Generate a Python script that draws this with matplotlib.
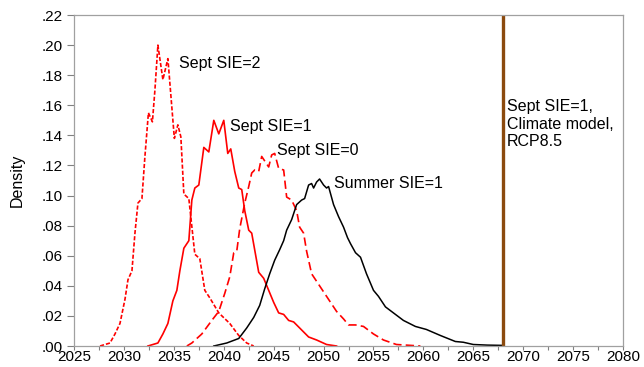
import matplotlib
matplotlib.use("Agg")
import matplotlib.pyplot as plt
from matplotlib.ticker import MultipleLocator, FuncFormatter

plt.rcParams['font.family'] = ['Liberation Sans', 'DejaVu Sans']

# kernel density estimates of the first ice-free year
sie2_year = [2027.6, 2028.6, 2029.1, 2029.6, 2030.1, 2030.4, 2030.8, 2031.1, 2031.4, 2031.8,
             2032.1, 2032.45, 2032.85, 2033.1, 2033.4, 2033.9, 2034.4, 2035.05, 2035.4, 2035.7,
             2036.0, 2036.5, 2037.1, 2037.6, 2038.1, 2038.6, 2039.5, 2040.6, 2041.5, 2042.3, 2043.0]
sie2_dens = [0.0, 0.002, 0.008, 0.015, 0.031, 0.044, 0.050, 0.075, 0.095, 0.098,
             0.126, 0.155, 0.149, 0.170, 0.200, 0.177, 0.191, 0.138, 0.147, 0.139,
             0.101, 0.098, 0.061, 0.058, 0.037, 0.032, 0.022, 0.015, 0.007, 0.002, 0.0]

sie1_year = [2032.4, 2033.4, 2033.9, 2034.4, 2034.9, 2035.3, 2035.6, 2036.0, 2036.5, 2036.8,
             2037.1, 2037.5, 2038.0, 2038.5, 2039.0, 2039.5, 2040.0, 2040.4, 2040.7, 2041.1,
             2041.5, 2041.8, 2042.1, 2042.5, 2042.8, 2043.5, 2044.0, 2045.0, 2045.5, 2046.0,
             2046.5, 2047.0, 2047.6, 2048.5, 2049.3, 2050.3, 2051.3]
sie1_dens = [0.0, 0.002, 0.008, 0.015, 0.030, 0.037, 0.050, 0.065, 0.070, 0.097,
             0.105, 0.107, 0.132, 0.129, 0.150, 0.141, 0.150, 0.128, 0.131, 0.116,
             0.105, 0.104, 0.090, 0.077, 0.075, 0.049, 0.045, 0.029, 0.022, 0.021,
             0.017, 0.016, 0.012, 0.006, 0.004, 0.001, 0.0]

sie0_year = [2036.3, 2036.8, 2037.8, 2038.8, 2039.5, 2040.1, 2040.6, 2041.0, 2041.3, 2041.6,
             2042.1, 2042.5, 2042.8, 2043.1, 2043.5, 2043.8, 2044.1, 2044.5, 2044.8, 2045.1,
             2045.5, 2046.0, 2046.3, 2046.8, 2047.3, 2047.6, 2048.0, 2048.3, 2048.8, 2049.5,
             2050.2, 2050.7, 2051.3, 2052.0, 2052.5, 2053.2, 2054.0, 2055.0, 2056.0, 2057.3, 2059.7]
sie0_dens = [0.0, 0.002, 0.008, 0.017, 0.023, 0.035, 0.046, 0.062, 0.063, 0.078,
             0.095, 0.106, 0.115, 0.117, 0.116, 0.126, 0.123, 0.119, 0.127, 0.128,
             0.118, 0.117, 0.099, 0.097, 0.090, 0.079, 0.075, 0.063, 0.048, 0.041,
             0.034, 0.029, 0.023, 0.018, 0.014, 0.014, 0.013, 0.008, 0.004, 0.001, 0.0]

summer_year = [2039.0, 2040.3, 2041.5, 2042.3, 2043.0, 2043.6, 2044.1, 2044.6, 2045.1, 2045.6,
               2046.0, 2046.3, 2046.8, 2047.3, 2047.8, 2048.1, 2048.5, 2048.8, 2049.0, 2049.3,
               2049.6, 2050.0, 2050.3, 2050.5, 2051.0, 2051.5, 2052.0, 2052.4, 2052.7, 2053.2,
               2053.7, 2054.3, 2055.0, 2055.5, 2056.2, 2057.0, 2058.0, 2059.2, 2060.3, 2061.7,
               2063.2, 2064.0, 2065.0, 2066.4, 2068.0]
summer_dens = [0.0, 0.002, 0.005, 0.012, 0.019, 0.027, 0.038, 0.048, 0.057, 0.064,
               0.070, 0.077, 0.084, 0.094, 0.097, 0.098, 0.107, 0.108, 0.105, 0.109,
               0.111, 0.107, 0.105, 0.106, 0.094, 0.086, 0.079, 0.072, 0.068, 0.062,
               0.059, 0.048, 0.037, 0.033, 0.026, 0.022, 0.017, 0.013, 0.011, 0.007,
               0.003, 0.0025, 0.001, 0.0006, 0.0004]

climate_model_year = 2068

fig = plt.figure(figsize=(6.44, 3.67), dpi=100)
ax = fig.add_axes([0.115, 0.0572, 0.8524, 0.9019])

ax.plot(sie2_year, sie2_dens, color='red', lw=1.2, dashes=(2.5, 1.2))
ax.plot(sie1_year, sie1_dens, color='red', lw=1.2)
ax.plot(sie0_year, sie0_dens, color='red', lw=1.2, dashes=(5, 2.5))
ax.plot(summer_year, summer_dens, color='black', lw=1.1)
ax.plot([climate_model_year, climate_model_year], [0, 0.22], color='#8B4A0E', lw=2.4)

fs = 11.5
ax.text(2035.5, 0.1875, 'Sept SIE=2', fontsize=fs, va='center')
ax.text(2040.6, 0.146, 'Sept SIE=1', fontsize=fs, va='center')
ax.text(2045.3, 0.130, 'Sept SIE=0', fontsize=fs, va='center')
ax.text(2051.0, 0.1077, 'Summer SIE=1', fontsize=fs, va='center')
ax.text(2068.35, 0.164, 'Sept SIE=1,\nClimate model,\nRCP8.5', fontsize=fs,
        va='top', linespacing=1.2)

ax.set_xlim(2025, 2080)
ax.set_ylim(0, 0.22)
ax.xaxis.set_major_locator(MultipleLocator(5))
ax.xaxis.set_minor_locator(MultipleLocator(2.5))
ax.yaxis.set_major_locator(MultipleLocator(0.02))
ax.yaxis.set_major_formatter(FuncFormatter(lambda v, p: '{:.2f}'.format(v).lstrip('0')))
ax.tick_params(axis='both', which='both', direction='out', colors='#808080',
               labelcolor='black', labelsize=11, width=0.8)
ax.tick_params(axis='x', which='major', length=3, pad=0)
ax.tick_params(axis='x', which='minor', length=3)
ax.tick_params(axis='y', which='major', length=5, pad=3)
for sp in ax.spines.values():
    sp.set_color('#a0a0a0')
    sp.set_linewidth(0.9)
ax.set_ylabel('Density', fontsize=fs, labelpad=12)

plt.savefig('out.png', dpi=100)
